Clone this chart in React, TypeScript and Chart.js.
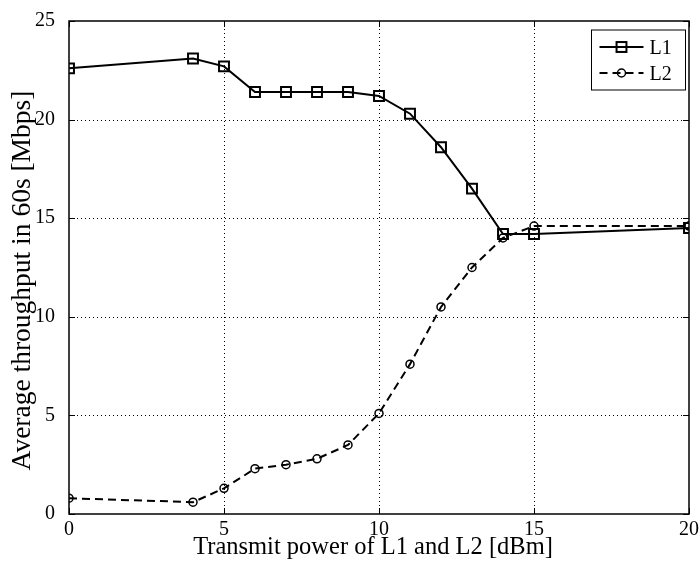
import React, { useEffect, useRef } from 'react';
import { Chart, registerables } from 'chart.js';
Chart.register(...registerables);

const xValues = [0, 4, 5, 6, 7, 8, 9, 10, 11, 12, 13, 14, 15, 20];
const l1Values = [22.6, 23.1, 22.7, 21.4, 21.4, 21.4, 21.4, 21.2, 20.3, 18.6, 16.5, 14.2, 14.2, 14.5];
const l2Values = [0.8, 0.6, 1.3, 2.3, 2.5, 2.8, 3.5, 5.1, 7.6, 10.5, 12.5, 14.0, 14.6, 14.6];
const xTicks = [0, 5, 10, 15, 20];
const yTicks = [0, 5, 10, 15, 20, 25];
const seriesNames = ['L1', 'L2'];
const xTitle = 'Transmit power of L1 and L2 [dBm]';
const yTitle = 'Average throughput in 60s [Mbps]';

const FONT = "'Liberation Serif', 'Times New Roman', serif";

const framePlugin = {
  id: 'matlabFrame',
  beforeDatasetsDraw(chart: any) {
    const { ctx, chartArea: a, scales } = chart;
    const x = scales.x, y = scales.y;
    ctx.save();
    ctx.strokeStyle = '#000';
    ctx.lineWidth = 1;
    ctx.setLineDash([1, 3]);
    for (const v of xTicks) {
      const px = Math.round(x.getPixelForValue(v)) + 0.5;
      if (px <= a.left + 2 || px >= a.right - 2) continue;
      ctx.beginPath();
      ctx.moveTo(px, a.top);
      ctx.lineTo(px, a.bottom);
      ctx.stroke();
    }
    for (const v of yTicks) {
      const py = Math.round(y.getPixelForValue(v)) + 0.5;
      if (py <= a.top + 2 || py >= a.bottom - 2) continue;
      ctx.beginPath();
      ctx.moveTo(a.left, py);
      ctx.lineTo(a.right, py);
      ctx.stroke();
    }
    ctx.restore();
  },
  afterDatasetsDraw(chart: any) {
    const { ctx, chartArea: a, scales } = chart;
    const x = scales.x, y = scales.y;
    ctx.save();
    ctx.setLineDash([]);
    ctx.strokeStyle = '#000';
    ctx.lineWidth = 1.5;
    ctx.strokeRect(a.left, a.top, a.right - a.left, a.bottom - a.top);
    ctx.lineWidth = 1;
    const tl = 6;
    for (const v of xTicks) {
      const px = Math.round(x.getPixelForValue(v)) + 0.5;
      ctx.beginPath();
      ctx.moveTo(px, a.bottom);
      ctx.lineTo(px, a.bottom - tl);
      ctx.moveTo(px, a.top);
      ctx.lineTo(px, a.top + tl);
      ctx.stroke();
    }
    for (const v of yTicks) {
      const py = Math.round(y.getPixelForValue(v)) + 0.5;
      ctx.beginPath();
      ctx.moveTo(a.left, py);
      ctx.lineTo(a.left + tl, py);
      ctx.moveTo(a.right, py);
      ctx.lineTo(a.right - tl, py);
      ctx.stroke();
    }

    // axis titles
    ctx.fillStyle = '#000';
    ctx.textAlign = 'center';
    ctx.textBaseline = 'alphabetic';
    ctx.font = `24.5px ${FONT}`;
    ctx.fillText(xTitle, (a.left + a.right) / 2 - 6, a.bottom + 40);
    ctx.save();
    ctx.translate(30, (a.top + a.bottom) / 2 + 13);
    ctx.rotate(-Math.PI / 2);
    ctx.font = `27.5px ${FONT}`;
    ctx.fillText(yTitle, 0, 0);
    ctx.restore();

    // legend
    const bw = 94, bh = 60;
    const bx = a.right - 97.5, by = a.top + 9;
    ctx.fillStyle = '#fff';
    ctx.fillRect(bx, by, bw, bh);
    ctx.lineWidth = 1;
    ctx.strokeRect(bx, by, bw, bh);
    chart.data.datasets.forEach((ds: any, i: number) => {
      const ly = by + 17 + i * 26;
      const x1 = bx + 8, x2 = bx + 52;
      ctx.save();
      ctx.strokeStyle = '#000';
      ctx.lineWidth = ds.borderWidth;
      ctx.setLineDash(ds.borderDash || []);
      ctx.beginPath();
      ctx.moveTo(x1, ly);
      ctx.lineTo(x2, ly);
      ctx.stroke();
      ctx.setLineDash([]);
      ctx.lineWidth = ds.pointBorderWidth;
      const cx = (x1 + x2) / 2;
      if (ds.pointStyle === 'rect') {
        const s = Math.SQRT1_2 * ds.pointRadius;
        ctx.strokeRect(cx - s, ly - s, 2 * s, 2 * s);
      } else {
        ctx.beginPath();
        ctx.arc(cx, ly, ds.pointRadius, 0, Math.PI * 2);
        ctx.stroke();
      }
      ctx.restore();
      ctx.fillStyle = '#000';
      ctx.font = `20px ${FONT}`;
      ctx.textBaseline = 'alphabetic';
      ctx.textAlign = 'left';
      ctx.fillText(ds.label, bx + 58, ly + 7);
    });
    ctx.restore();
  },
};

export default function App() {
  const ref = useRef<HTMLCanvasElement | null>(null);
  useEffect(() => {
    if (!ref.current) return;
    const chart = new Chart(ref.current, {
      type: 'line',
      data: {
        datasets: [
          {
            label: seriesNames[0],
            data: xValues.map((v, i) => ({ x: v, y: l1Values[i] })),
            borderColor: '#000',
            borderWidth: 2,
            pointStyle: 'rect',
            pointRadius: 7,
            pointBorderWidth: 2,
            pointBorderColor: '#000',
            pointBackgroundColor: 'rgba(0,0,0,0)',
            tension: 0,
          },
          {
            label: seriesNames[1],
            data: xValues.map((v, i) => ({ x: v, y: l2Values[i] })),
            borderColor: '#000',
            borderWidth: 2,
            borderDash: [8, 5],
            pointStyle: 'circle',
            pointRadius: 4,
            pointBorderWidth: 1.5,
            pointBorderColor: '#000',
            pointBackgroundColor: 'rgba(0,0,0,0)',
            tension: 0,
          },
        ],
      } as any,
      options: {
        animation: false,
        responsive: false,
        layout: { padding: { left: 0, top: 21, right: 10, bottom: 0 } },
        plugins: { legend: { display: false }, tooltip: { enabled: false } },
        scales: {
          x: {
            type: 'linear',
            min: 0,
            max: 20,
            afterBuildTicks: (s: any) => { s.ticks = xTicks.map((v) => ({ value: v })); },
            afterFit: (s: any) => { s.height = 53; s.paddingLeft = 0; s.paddingRight = 0; },
            grid: { display: false },
            border: { display: false },
            ticks: { color: '#000', font: { family: FONT, size: 20, lineHeight: 1 }, padding: -2, maxRotation: 0 },
            title: { display: false },
          },
          y: {
            type: 'linear',
            min: 0,
            max: 25,
            afterBuildTicks: (s: any) => { s.ticks = yTicks.map((v) => ({ value: v })); },
            afterFit: (s: any) => { s.width = 69; s.paddingTop = 0; s.paddingBottom = 0; },
            grid: { display: false },
            border: { display: false },
            ticks: { color: '#000', font: { family: FONT, size: 20, lineHeight: 1 }, padding: 6 },
            title: { display: false },
          },
        },
      } as any,
      plugins: [framePlugin],
    });
    return () => chart.destroy();
  }, []);
  return (
    <div style={{ position: 'fixed', left: 0, top: 0, width: 699, height: 567, background: '#fff' }}>
      <canvas ref={ref} width={699} height={567} style={{ display: 'block' }} />
    </div>
  );
}
